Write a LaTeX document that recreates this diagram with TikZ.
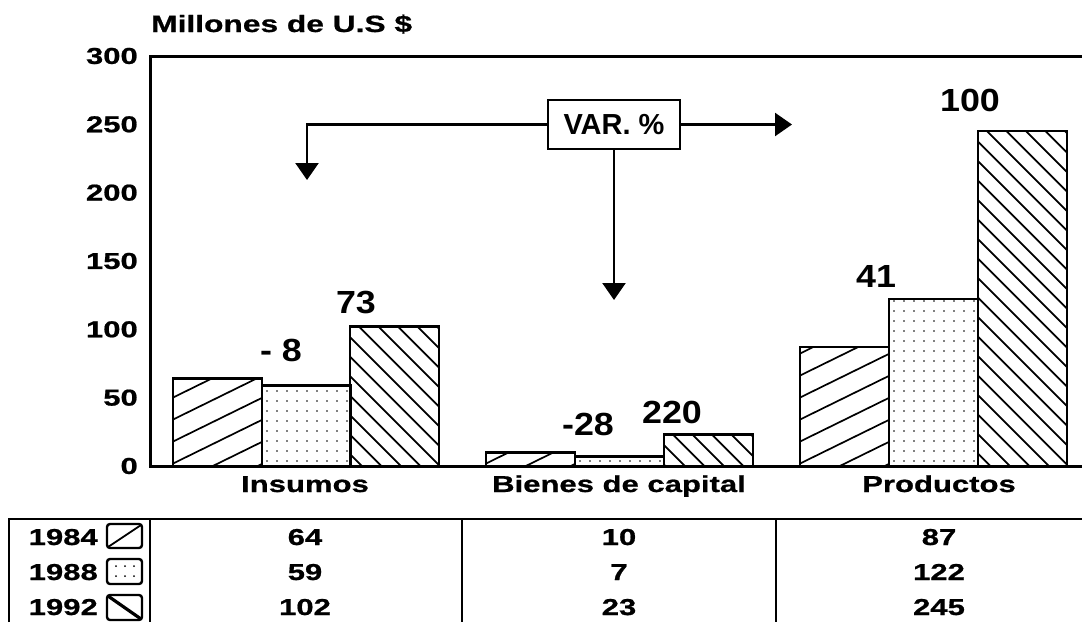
\documentclass[tikz,border=0pt]{standalone}
\usepackage{fontspec}
\usetikzlibrary{arrows.meta}
\newfontfamily\axf[FakeStretch=1.35,FakeBold=0.8]{Liberation Sans}
\newfontfamily\lbf[FakeStretch=1.12]{Liberation Sans}
\newfontfamily\plf{Liberation Sans}
\newcommand\barHatchA[2]{%
  \pgfmathsetmacro\yt{466-1.366667*#2}%
  \begin{scope}
    \clip (#1,466) rectangle (#1+89,\yt);
    \foreach \k in {-10,...,4} \draw[hatch] (#1-5,466+\k*22) -- ++(110,-54);
  \end{scope}
  \draw[barline] (#1,466) rectangle (#1+89,\yt);}
\newcommand\barDots[2]{%
  \pgfmathsetmacro\yt{466-1.366667*#2}%
  \begin{scope}
    \clip (#1,466) rectangle (#1+89,\yt);
    \foreach \i in {0,...,8} \foreach \j in {0,...,35} \fill (#1+5+\i*10,461-\j*10) circle (0.9);
  \end{scope}
  \draw[barline] (#1,466) rectangle (#1+89,\yt);}
\newcommand\barHatchC[2]{%
  \pgfmathsetmacro\yt{466-1.366667*#2}%
  \begin{scope}
    \clip (#1,466) rectangle (#1+89,\yt);
    \foreach \k in {0,...,27} \draw[hatch] (#1-420+\k*19.5,\yt) -- ++(420,420);
  \end{scope}
  \draw[barline] (#1,466) rectangle (#1+89,\yt);}
\begin{document}
\begin{tikzpicture}[x=1pt,y=-1pt,line join=miter,
  axis/.style={line width=3pt},
  barline/.style={line width=2.4pt},
  hatch/.style={line width=1.7pt},
  tline/.style={line width=2.6pt},
  ax/.style={font=\axf\bfseries\fontsize{23}{23}\selectfont,inner sep=0pt},
  val/.style={font=\lbf\bfseries\fontsize{32}{32}\selectfont,inner sep=0pt},
  varbox/.style={draw,line width=2.2pt,font=\plf\bfseries\fontsize{29}{29}\selectfont,minimum width=132pt,minimum height=49pt,inner sep=0pt},
  arr/.style={line width=2.4pt,-{Triangle[width=23pt,length=17pt]}},
  swatch/.style={line width=2.4pt,rounded corners=3pt}]
\useasboundingbox (0,0) rectangle (1082,622);
% title
\node[ax,anchor=base west,font=\axf\bfseries\fontsize{23.5}{24}\selectfont] (title) at (151,32) {Millones de U.S \$};
% axis frame
\draw[axis] (1082,56) -- (150,56) -- (150,466) -- (1082,466);
% tick labels
\foreach \v in {0,50,...,300} \node[ax,anchor=east] (t\v) at (138,{466-1.366667*\v}) {\v};
% bars
\barHatchA{173}{64} \barDots{262}{59} \barHatchC{350}{102}
\barHatchA{486}{10} \barDots{575}{7} \barHatchC{664}{23}
\barHatchA{800}{87} \barDots{889}{122} \barHatchC{978}{245}
% variation labels
\node[val] (v1) at (281,350) {- 8};
\node[val] (v2) at (356,303) {73};
\node[val] (v3) at (588,424) {-28};
\node[val] (v4) at (672,412) {220};
\node[val] (v5) at (876,276) {41};
\node[val] (v6) at (970,100) {100};
% VAR box and arrows
\node[varbox] (var) at (614,124.5) {VAR. \%};
\coordinate (lcorner) at (307,124.5);
\coordinate (ltip) at (307,180);
\coordinate (rtip) at (792,124.5);
\coordinate (dtip) at (614,300);
\draw[arr] (var.west) -- (lcorner) -- (ltip);
\draw[arr] (var.east) -- (rtip);
\draw[arr] (var.south) -- (dtip);
% category labels
\node[ax,anchor=base] (c1) at (305,492) {Insumos};
\node[ax,anchor=base] (c2) at (619,492) {Bienes de capital};
\node[ax,anchor=base] (c3) at (939,492) {Productos};
% table
\draw[tline] (9,622) -- (9,519) -- (1082,519);
\draw[tline] (150,519) -- (150,622);
\draw[tline] (462,519) -- (462,622);
\draw[tline] (776,519) -- (776,622);
\node[ax,anchor=base east] (y1) at (98,545) {1984};
\node[ax,anchor=base east] (y2) at (98,580) {1988};
\node[ax,anchor=base east] (y3) at (98,615) {1992};
% swatches
\draw[swatch] (107,524) rectangle (142,548);
\draw[line width=1.8pt] (108,547) -- (141,525);
\draw[swatch] (107,559) rectangle (142,584);
\foreach \i in {116,125,134} \foreach \j in {566,576} \fill (\i,\j) circle (1);
\draw[swatch] (107,595) rectangle (142,620);
\draw[line width=3.2pt] (108,596) -- (141,619);
% values
\node[ax,anchor=base] (a1) at (305,545) {64};
\node[ax,anchor=base] (a2) at (305,580) {59};
\node[ax,anchor=base] (a3) at (305,615) {102};
\node[ax,anchor=base] (b1) at (619,545) {10};
\node[ax,anchor=base] (b2) at (619,580) {7};
\node[ax,anchor=base] (b3) at (619,615) {23};
\node[ax,anchor=base] (p1) at (939,545) {87};
\node[ax,anchor=base] (p2) at (939,580) {122};
\node[ax,anchor=base] (p3) at (939,615) {245};
\end{tikzpicture}
\end{document}
